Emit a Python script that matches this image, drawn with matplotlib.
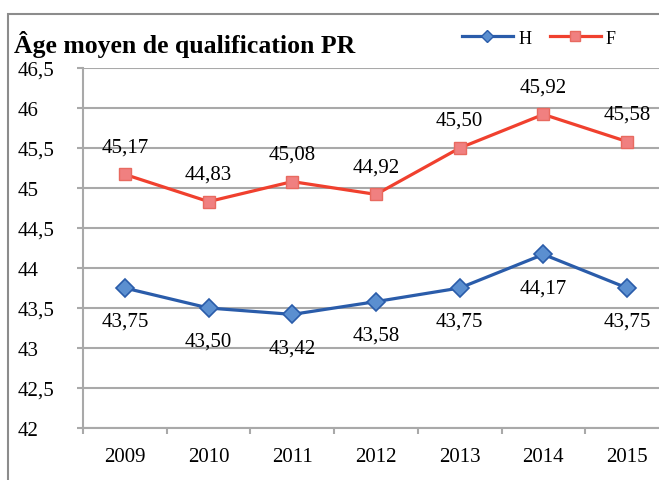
import matplotlib
matplotlib.use("Agg")
import matplotlib.pyplot as plt
from matplotlib.patches import Rectangle
from matplotlib.lines import Line2D

years = ['2009', '2010', '2011', '2012', '2013', '2014', '2015']
hommes = [43.75, 43.50, 43.42, 43.58, 43.75, 44.17, 43.75]
femmes = [45.17, 44.83, 45.08, 44.92, 45.50, 45.92, 45.58]
yticks = [42, 42.5, 43, 43.5, 44, 44.5, 45, 45.5, 46, 46.5]

blue = '#2a5caa'
red = '#f0402e'
grid = '#a9a9a9'

plt.rcParams['font.family'] = ['Liberation Serif', 'DejaVu Serif']

fig = plt.figure(figsize=(6.59, 4.81), dpi=100)
# chart frame (cut off on right and bottom like the reference)
fig.add_artist(Rectangle((8/659, -0.1), 1.0, 1.1 - 15/481, transform=fig.transFigure,
                         fill=False, edgecolor='#8c8c8c', lw=1.5))

ax = fig.add_axes([83/659, 52/481, 586/659, 360/481])
x = list(range(len(years)))

ax.plot(x, hommes, color=blue, lw=2.3, marker='D', ms=9, mfc='#5b8fd0', mec=blue, mew=1.2, zorder=3)
ax.plot(x, femmes, color=red, lw=2.3, marker='s', ms=9, mfc='#f08080', mec='#e86a60', mew=1.0, zorder=3)

for i, v in enumerate(femmes):
    ax.annotate(f'{v:.2f}'.replace('.', ','), (i, v), xytext=(0, 20), textcoords='offset points',
                ha='center', va='center', fontsize=15)
for i, v in enumerate(hommes):
    ax.annotate(f'{v:.2f}'.replace('.', ','), (i, v), xytext=(0, -24), textcoords='offset points',
                ha='center', va='center', fontsize=15)

ax.set_xlim(-0.5, 6.5)
ax.set_ylim(42, 46.5)
ax.set_yticks(yticks)
ax.set_yticklabels([f'{t:g}'.replace('.', ',') for t in yticks], fontsize=15)
ax.set_xticks(x)
ax.set_xticklabels(years, fontsize=15)
ax.set_xticks([i - 0.5 for i in range(8)], minor=True)
ax.tick_params(axis='x', which='major', length=0, pad=14)
ax.tick_params(axis='x', which='minor', length=4.3, width=1.5, color=grid)
ax.tick_params(axis='y', length=4.3, width=1.5, color=grid, pad=42.5)
for lbl in ax.get_yticklabels():
    lbl.set_horizontalalignment('left')
ax.yaxis.grid(True, color=grid, lw=1.5)
ax.set_axisbelow(True)
for s in ['top', 'right']:
    ax.spines[s].set_visible(False)
for s in ['left', 'bottom']:
    ax.spines[s].set_color(grid)
    ax.spines[s].set_linewidth(1.5)

fig.text(14/659, 1 - 44/481, 'Âge moyen de qualification PR', fontsize=18.5, fontweight='bold',
         va='center', ha='left')

handles = [Line2D([], [], color=blue, lw=2.3, marker='D', ms=6.5, mfc='#5b8fd0', mec=blue),
           Line2D([], [], color=red, lw=2.3, marker='s', ms=6.5, mfc='#f08080', mec='#e86a60')]
fig.legend(handles, ['H', 'F'], loc='center', bbox_to_anchor=(539/659, 1 - 39/481), ncol=2,
           frameon=False, fontsize=13, handlelength=2.8, handletextpad=0.3, columnspacing=1.05)

fig.savefig('out.png', dpi=100)
